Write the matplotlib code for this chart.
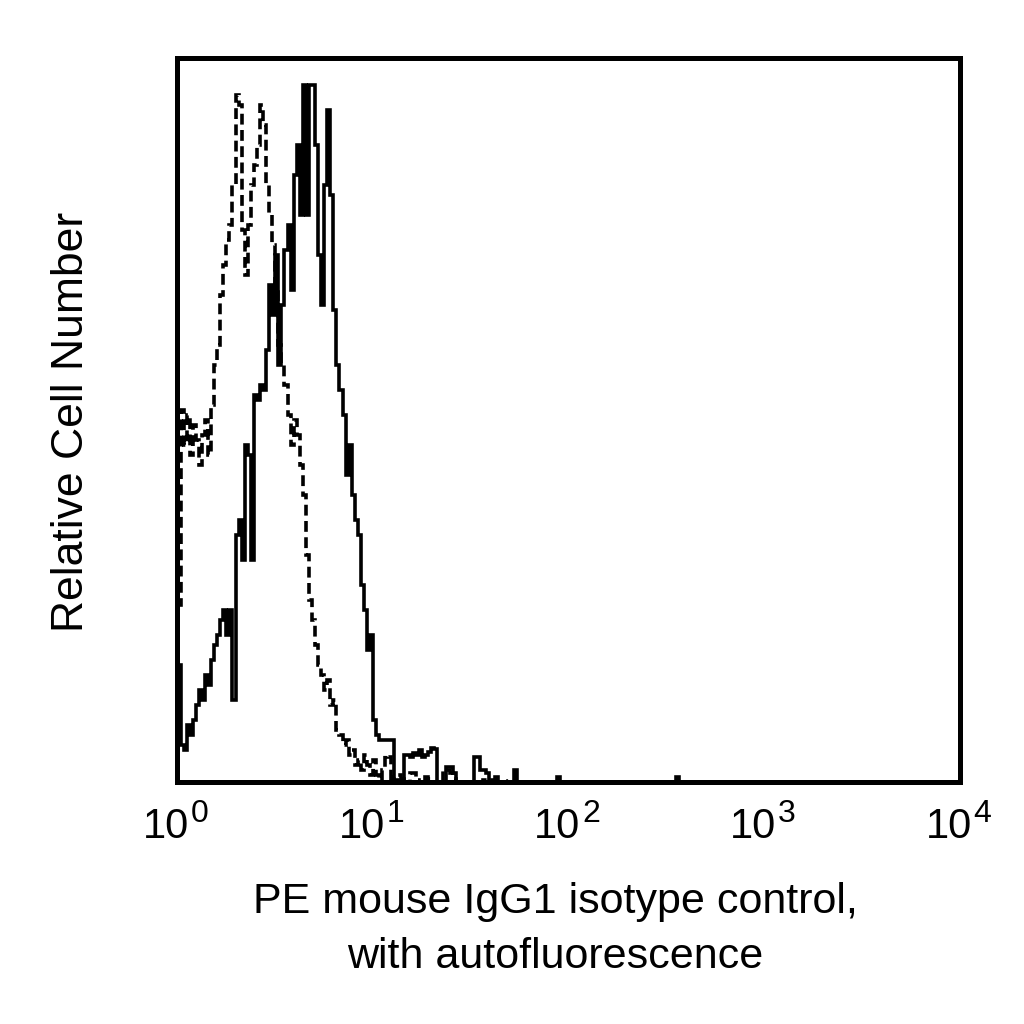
import matplotlib
matplotlib.use("Agg")
import matplotlib.pyplot as plt
import matplotlib.transforms as mtransforms
import numpy as np

plt.rcParams['font.family'] = ['Liberation Sans', 'DejaVu Sans']

# 256 log channels over 4 decades (64 per decade)
n_channels = 256
channels_per_decade = 64

# solid histogram: channels 0..72
solid_head = [120, 40, 35, 60, 50, 65, 80, 95, 85, 110,
              100, 125, 140, 150, 165, 175, 150, 175, 85, 250,
              265, 225, 340, 330, 225, 390, 385, 400, 395, 435,
              500, 470, 530, 420, 480, 535, 560, 495, 610, 640,
              570, 700, 570, 700, 700, 640, 530, 480, 600, 675,
              590, 475, 420, 395, 370, 310, 340, 290, 265, 250,
              200, 175, 135, 150, 65, 50, 45, 45, 45, 45,
              45, 5, 3]
# sparse tail of the solid histogram (channel, value)
solid_tail_ch = [74, 75, 76, 77, 78, 79, 80, 81, 82, 83, 84, 88, 89, 90,
                 97, 98, 99, 100, 101, 104, 110, 124, 163]
solid_tail_val = [30, 30, 28, 32, 30, 35, 28, 30, 33, 37, 36, 18, 18, 12,
                  28, 28, 15, 15, 12, 8, 15, 8, 8]

# dashed histogram: channels 0..63
dashed_head = [180, 375, 340, 370, 330, 360, 345, 320, 350, 365,
               330, 380, 420, 440, 490, 520, 545, 560, 600, 690,
               680, 555, 510, 560, 600, 620, 640, 680, 660, 600,
               570, 540, 500, 440, 420, 400, 370, 340, 365, 350,
               320, 290, 230, 185, 165, 140, 120, 110, 95, 105,
               80, 85, 55, 50, 40, 45, 30, 35, 20, 25,
               15, 30, 20, 10]
dashed_tail_ch = [64, 65, 66, 67, 68, 69, 71, 72, 73, 76, 77, 78, 81, 82,
                  87, 88, 89, 90, 100, 101, 102, 103, 108]
dashed_tail_val = [25, 10, 5, 15, 30, 28, 8, 10, 6, 12, 12, 5, 8, 6,
                   15, 15, 12, 6, 5, 5, 4, 5, 4]

tick_pos = [1, 10, 100, 1000, 10000]
tick_exp = ['0', '1', '2', '3', '4']

edges = 10 ** (np.arange(n_channels + 1) / channels_per_decade)

solid = np.zeros(n_channels)
solid[:len(solid_head)] = solid_head
solid[solid_tail_ch] = solid_tail_val

dashed = np.zeros(n_channels)
dashed[:len(dashed_head)] = dashed_head
dashed[dashed_tail_ch] = dashed_tail_val

fig = plt.figure(figsize=(10.24, 10.24), dpi=100)
ax = fig.add_axes([0.1733, 0.2363, 0.9375 - 0.1733, 0.9438 - 0.2363])

ax.stairs(solid, edges, baseline=None, color='black', lw=2.6)
ax.stairs(dashed, edges, baseline=None, color='black', lw=2.6,
          linestyle=(0, (3.0, 1.5)))

ax.set_xscale('log')
ax.set_xlim(1, 10000)
ax.set_ylim(3, 727.5)
ax.set_yticks([])
ax.set_xticks([])
ax.minorticks_off()
for s in ax.spines.values():
    s.set_linewidth(3.6)

# tick labels drawn as "10" plus a raised exponent
trans = mtransforms.blended_transform_factory(ax.transData, ax.transAxes)
for pos, e in zip(tick_pos, tick_exp):
    ax.annotate('10', xy=(pos, 0), xycoords=trans, xytext=(8.5, -40),
                textcoords='offset points', ha='right', va='baseline',
                fontsize=30, annotation_clip=False)
    ax.annotate(e, xy=(pos, 0), xycoords=trans, xytext=(9.5, -28.5),
                textcoords='offset points', ha='left', va='baseline',
                fontsize=23, annotation_clip=False)

fig.text(72 / 1024, 1 - 422 / 1024, 'Relative Cell Number',
         rotation=90, ha='center', va='center', fontsize=32)
fig.text(555 / 1024, 1 - 913 / 1024, 'PE mouse IgG1 isotype control,',
         ha='center', va='baseline', fontsize=31)
fig.text(555 / 1024, 1 - 968 / 1024, 'with autofluorescence',
         ha='center', va='baseline', fontsize=31)

fig.savefig('out.png', dpi=100)
